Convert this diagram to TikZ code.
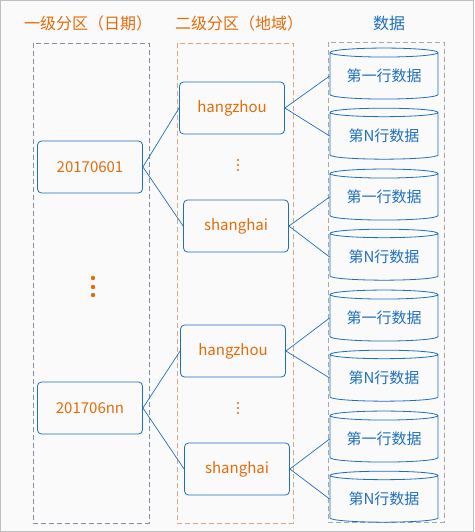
\documentclass[tikz,border=0pt]{standalone}
\usepackage{fontspec}
\setmainfont{Noto Sans CJK SC}
\usetikzlibrary{shapes.geometric}
\definecolor{partorange}{HTML}{E46C0A}
\definecolor{partblue}{HTML}{1F6FBF}
\definecolor{boxgray}{HTML}{A8A8A8}
\definecolor{boxslate}{HTML}{858DA5}
\definecolor{boxpeach}{HTML}{DDA782}
\begin{document}
\begin{tikzpicture}[x=1pt,y=-1pt,
  head/.style={
    font=\fontsize{16pt}{19pt}\selectfont
  },
  part/.style={
    draw=partblue,
    rounded corners=4pt,
    line width=0.8pt,
    minimum width=105pt,
    minimum height=52pt,
    inner sep=0pt,
    text=partorange,
    font=\fontsize{15pt}{18pt}\selectfont
  },
  rows/.style={
    cylinder,
    shape border rotate=90,
    aspect=0.12,
    draw=partblue,
    line width=0.8pt,
    minimum width=108pt,
    minimum height=51pt,
    inner sep=0pt,
    text=partblue,
    font=\fontsize{15pt}{18pt}\selectfont
  },
  colbox/.style={dash pattern=on 5pt off 3pt, line width=0.8pt},
  link/.style={draw=partblue, line width=0.7pt}]
  % background and frame
  \fill[white!98!black] (0,0) rectangle (474,532);
  \draw[black!25, line width=1pt] (0.5,0.5) rectangle (473.5,531.5);
  \useasboundingbox (0,0) rectangle (474,532);
  % headers
  \node[head, text=partorange] (t1) at (88,23) {一级分区（日期）};
  \node[head, text=partorange] (t2) at (239,23) {二级分区（地域）};
  \node[head, text=partblue] (t3) at (389,23) {数据};
  % dashed columns
  \draw[colbox, draw=boxslate] (33,43) rectangle (149,523);
  \draw[colbox, draw=boxpeach] (177,43) rectangle (293,523);
  \draw[colbox, draw=boxgray] (328,42) rectangle (444,522);
  % first level
  \node[part] (p1) at (90,167) {20170601};
  \node[part] (p2) at (90,408) {201706nn};
  % second level
  \node[part] (h1) at (232,108) {hangzhou};
  \node[part] (s1) at (236,226) {shanghai};
  \node[part] (h2) at (233,351) {hangzhou};
  \node[part] (s2) at (237,469) {shanghai};
  % data rows
  \foreach \n/\y/\t in {d1/76/第一行数据, d2/136/第N行数据,
                        d3/197/第一行数据, d4/257/第N行数据,
                        d5/318/第一行数据, d6/378/第N行数据,
                        d7/439/第一行数据, d8/499/第N行数据}
    \node[rows] (\n) at (384,\y) {\raisebox{-2.5pt}{\t}};
  % dots
  \foreach \y in {278,287,295}
    \fill[partorange] (93,\y) circle (2.2pt);
  \foreach \c in {165,408}
    \foreach \d in {-5,0,5}
      \fill[partorange] (238,\c+\d) circle (1.1pt);
  % links
  \draw[link] (p1.east) -- (h1.west);
  \draw[link] (p1.east) -- (s1.west);
  \draw[link] (p2.east) -- (h2.west);
  \draw[link] (p2.east) -- (s2.west);
  \draw[link] (h1.east) -- (d1.west);
  \draw[link] (h1.east) -- (d2.west);
  \draw[link] (s1.east) -- (d3.west);
  \draw[link] (s1.east) -- (d4.west);
  \draw[link] (h2.east) -- (d5.west);
  \draw[link] (h2.east) -- (d6.west);
  \draw[link] (s2.east) -- (d7.west);
  \draw[link] (s2.east) -- (d8.west);
\end{tikzpicture}
\end{document}
